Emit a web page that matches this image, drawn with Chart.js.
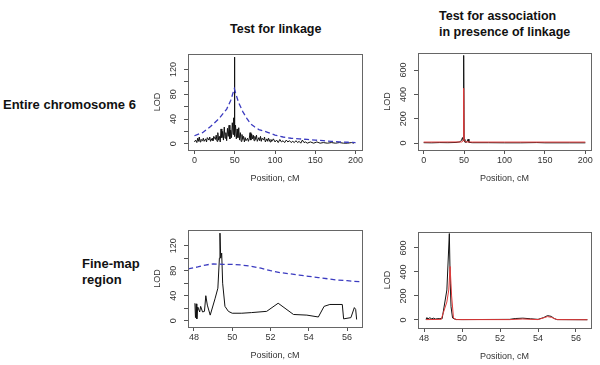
<!DOCTYPE html>
<html>
<head>
<meta charset="utf-8">
<script src="https://cdn.jsdelivr.net/npm/chart.js@4"></script>
<style>
  body { margin: 0; background: #fff; }
  #page { position: relative; width: 600px; height: 365px; background: #fff; font-family: Arial, "Liberation Sans", sans-serif; }
  canvas { position: absolute; }
  .lbl { position: absolute; color: #111; font-weight: bold; white-space: nowrap; }
</style>
</head>
<body>
<div id="page">
  <div class="lbl" style="left:230px;top:22px;font-size:12.5px;">Test for linkage</div>
  <div class="lbl" style="left:439px;top:8px;font-size:12.5px;line-height:16px;">Test for association<br>in presence of linkage</div>
  <div class="lbl" style="left:3px;top:97px;font-size:13px;">Entire chromosome 6</div>
  <div class="lbl" style="left:82px;top:256px;font-size:13px;line-height:16px;">Fine-map<br>region</div>
  <canvas id="linkWide"></canvas>
  <canvas id="assocWide"></canvas>
  <canvas id="linkFine"></canvas>
  <canvas id="assocFine"></canvas>
</div>
<script>
// tick values
const wideXTicks = [0, 50, 100, 150, 200];
const fineXTicks = [48, 50, 52, 54, 56];
const linkYTicks = [0, 20, 40, 60, 80, 100, 120];
const assocYTicks = [0, 200, 400, 600];

// chromosome 6, whole length (cM, LOD)
const linkageWide = [[0,3],[1.5,6],[3,2],[4,9],[5,4],[6,11],[7,3],[8,7],[10,5],[11,9],[12,4],[14,8],[15,3],[16,10],[18,6],[19,11],[20,4],[22,9],[23,5],[24,12],[26,7],[27,14],[28,4],[29,18],[30,6],[31,12],[32,3],[33,24],[34,10],[35,20],[36,6],[37,27],[38,9],[39,18],[40,5],[41,25],[42,12],[43,30],[44,8],[45,22],[46,10],[47,34],[48,15],[48.7,42],[49.2,20],[49.5,140],[49.8,25],[50.3,12],[51,30],[52,8],[53,24],[54,10],[55,26],[56,6],[57,18],[58,4],[59,15],[60,7],[61,12],[62,3],[63,10],[64,5],[66,9],[67,4],[68,8],[69,18],[70,6],[71,16],[72,8],[73,14],[74,5],[75,12],[76,7],[77,14],[78,4],[80,10],[81,5],[82,12],[83,4],[84,9],[86,6],[87,11],[88,3],[90,8],[91,4],[92,9],[94,3],[95,7],[96,4],[98,8],[100,3],[102,6],[104,2],[106,7],[108,3],[110,5],[112,2],[114,6],[116,3],[118,5],[120,2],[122,4],[124,2],[126,5],[128,2],[130,4],[132,1],[134,6],[136,2],[138,3],[140,1],[144,3],[148,1],[152,3],[156,1],[160,2],[165,1],[170,2],[175,1],[180,2],[185,1],[190,1],[195,2],[198,1]];
const linkageWideDash = [[0,13],[10,18],[20,28],[30,40],[40,56],[45,70],[49.5,89],[52,78],[55,66],[60,52],[65,41],[70,32],[75,27],[80,23],[90,19],[100,14],[110,11],[120,9],[130,8],[140,7],[150,6],[160,5],[170,4],[180,3],[190,2.5],[200,2]];
const assocWide = [[0,3],[10,2],[20,4],[30,3],[40,5],[45,10],[47,25],[48,45],[49,20],[49.5,720],[50,30],[51,8],[53,6],[55,32],[56,6],[60,3],[80,3],[100,2],[120,2],[140,4],[150,2],[160,2],[180,2],[200,2]];
const assocWideRed = [[0,8],[47,9],[48,12],[49,25],[49.5,450],[50,20],[52,10],[60,8],[100,8],[150,8],[200,8]];

// fine-map region
const linkageFine = [[48.05,28],[48.08,5],[48.12,27],[48.15,3],[48.2,22],[48.3,14],[48.35,23],[48.45,14],[48.55,15],[48.62,40],[48.7,25],[48.85,9],[49.1,35],[49.25,52],[49.33,100],[49.36,140],[49.4,100],[49.45,108],[49.5,60],[49.62,23],[49.8,15],[50,12],[50.5,12],[51,13],[51.8,15],[52.4,28],[53.2,10],[53.9,9],[54.5,6],[54.8,23],[55.1,26],[55.75,26],[55.82,3],[56.2,5],[56.38,21],[56.45,18],[56.5,2]];
const linkageFineDash = [[47.7,83],[48.2,86],[48.6,89],[49,91],[49.5,90],[50,90],[50.5,89],[51,87],[51.5,84],[52,80],[52.5,77],[53,75],[53.5,73],[54,71],[54.5,69],[55,67],[55.5,65],[56,64],[56.8,62]];
const assocFine = [[48.1,5],[48.15,20],[48.2,8],[48.3,18],[48.4,10],[48.5,15],[48.6,8],[48.8,12],[48.95,10],[49.2,250],[49.33,720],[49.38,300],[49.42,110],[49.5,17],[49.6,8],[49.7,4],[50,3],[52.5,5],[52.8,12],[53.2,15],[53.6,10],[54,5],[54.3,20],[54.5,36],[54.7,30],[54.85,12],[55,3],[56.6,2]];
const assocFineRed = [[48.1,3],[48.9,5],[49.2,150],[49.3,250],[49.37,445],[49.45,200],[49.55,15],[49.7,3],[52.5,3],[53.2,8],[54,3],[54.5,28],[54.7,22],[55,3],[56.6,2]];

function pts(arr) {
  return arr.map(p => ({ x: p[0], y: p[1] }));
}

const boxPlugin = {
  id: "rbox",
  afterDraw(chart, args, opts) {
    const ctx = chart.ctx;
    const a = chart.chartArea;
    ctx.save();
    ctx.strokeStyle = "#666";
    ctx.lineWidth = 1;
    ctx.strokeRect(Math.round(a.left) + 0.5, Math.round(a.top) + 0.5, Math.round(a.right - a.left), Math.round(a.bottom - a.top));
    // rotated y labels, R style
    const ys = chart.scales.y;
    ctx.fillStyle = "#333";
    ctx.font = "9px Arial, 'Liberation Sans', sans-serif";
    ctx.textAlign = "center";
    ctx.textBaseline = "middle";
    ys.ticks.forEach(t => {
      if (t.value % opts.labelEvery !== 0) return;
      ctx.save();
      ctx.translate(a.left - 14, ys.getPixelForValue(t.value));
      ctx.rotate(-Math.PI / 2);
      ctx.fillText(String(t.value), 0, 0);
      ctx.restore();
    });
    ctx.restore();
  }
};

function makePanel(id, box, xr, yr, datasets) {
  const el = document.getElementById(id);
  const w = box.r - box.l + 36 + 10;
  const h = box.b - box.t + 10 + 34;
  el.width = w; el.height = h;
  el.style.left = (box.l - 36) + "px";
  el.style.top = (box.t - 10) + "px";
  el.style.width = w + "px";
  el.style.height = h + "px";
  return new Chart(el.getContext("2d"), {
    type: "line",
    data: { datasets: datasets },
    options: {
      responsive: false,
      animation: false,
      layout: { padding: { left: 0, top: 10, right: 10, bottom: 0 } },
      plugins: { legend: { display: false }, tooltip: { enabled: false }, rbox: { labelEvery: yr.label } },
      elements: { point: { radius: 0 }, line: { tension: 0 } },
      scales: {
        x: {
          type: "linear",
          min: xr.min, max: xr.max,
          border: { display: false },
          grid: { drawOnChartArea: false, drawTicks: true, tickLength: 4, color: "#555" },
          ticks: { maxRotation: 0, padding: 1, color: "#333", font: { size: 9, family: "Arial" } },
          afterBuildTicks: s => { s.ticks = xr.ticks.map(v => ({ value: v })); },
          afterFit: s => { s.height = 34; },
          title: { display: true, text: "Position, cM", color: "#333", font: { size: 9, family: "Arial" }, padding: 0 }
        },
        y: {
          type: "linear",
          min: yr.min, max: yr.max,
          border: { display: false },
          grid: { drawOnChartArea: false, drawTicks: true, tickLength: 4, color: "#555" },
          ticks: { display: false },
          afterBuildTicks: s => { s.ticks = yr.ticks.map(v => ({ value: v })); },
          afterFit: s => { s.width = 36; },
          title: { display: true, text: "LOD", color: "#333", font: { size: 9, family: "Arial" }, padding: 0 }
        }
      }
    },
    plugins: [boxPlugin]
  });
}

const black = d => ({ data: pts(d), borderColor: "#111", borderWidth: 1, fill: false });
const blueDash = d => ({ data: pts(d), borderColor: "#3b3bc0", borderWidth: 1.3, borderDash: [5, 3], fill: false });
const red = d => ({ data: pts(d), borderColor: "#e23a3a", borderWidth: 1, fill: false });

makePanel("linkWide", { l: 188, t: 54, r: 362, b: 150 },
  { min: -8, max: 208, ticks: wideXTicks },
  { min: -10, max: 145, ticks: linkYTicks, label: 40 },
  [blueDash(linkageWideDash), black(linkageWide)]);

makePanel("assocWide", { l: 418, t: 53, r: 591, b: 150 },
  { min: -7, max: 207, ticks: wideXTicks },
  { min: -57, max: 740, ticks: assocYTicks, label: 200 },
  [red(assocWideRed), black(assocWide)]);

makePanel("linkFine", { l: 188, t: 230, r: 362, b: 327 },
  { min: 47.69, max: 56.78, ticks: fineXTicks },
  { min: -10, max: 145, ticks: linkYTicks, label: 40 },
  [blueDash(linkageFineDash), black(linkageFine)]);

makePanel("assocFine", { l: 418, t: 232, r: 591, b: 328 },
  { min: 47.68, max: 56.79, ticks: fineXTicks },
  { min: -67, max: 733, ticks: assocYTicks, label: 200 },
  [red(assocFineRed), black(assocFine)]);
</script>
</body>
</html>
